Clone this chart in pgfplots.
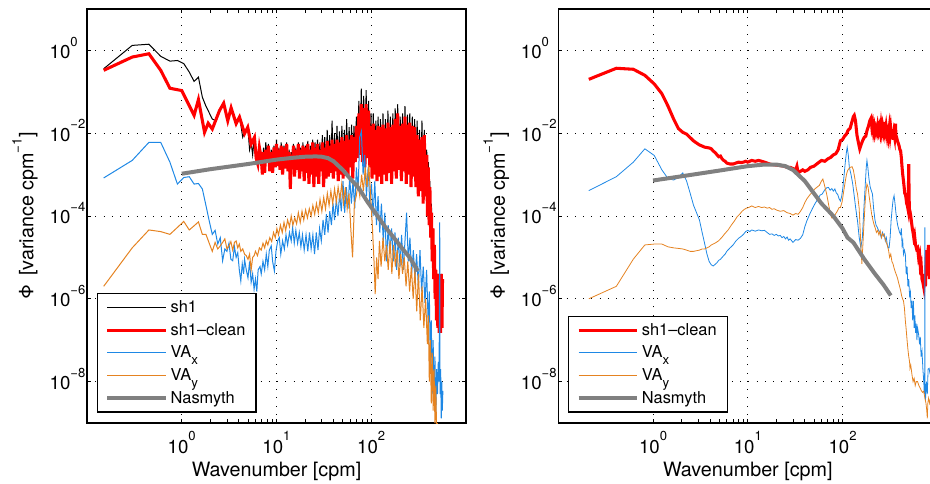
\documentclass[border=0pt]{standalone}
\usepackage{fontspec}
\setmainfont{TeX Gyre Heros}
\usepackage{pgfplots}
\pgfplotsset{compat=1.18}
\definecolor{mblue}{RGB}{30,136,229}
\definecolor{morange}{RGB}{229,131,33}
\definecolor{mgray}{RGB}{128,128,128}
\newcommand{\sps}[1]{\raisebox{0.6em}{\fontsize{10}{10}\selectfont #1}}
\newcommand{\tsp}[1]{\raisebox{0.66em}{\fontsize{9.8}{9.8}\selectfont #1}}
\newcommand{\tl}[1]{{\fontsize{14}{15}\selectfont 10\tsp{#1}}}
\newcommand{\sbs}[1]{\raisebox{-0.8ex}{\fontsize{10}{10}\selectfont #1}}
\pgfplotsset{legend image code/.code={\draw[#1] (2pt,0pt) -- (46pt,0pt);}}
\begin{document}
\begin{tikzpicture}
% LEFT
\begin{axis}[at={(65.25pt,45.75pt)}, anchor=south west,
    scale only axis, width=284.25pt, height=310.5pt,
    xmode=log, ymode=log, xmin=0.1, xmax=1000, ymin=1e-9, ymax=10,
    xtick={1,10,100}, xticklabels={\tl{0},\tl{1},\tl{2}},
    ytick={1e-8,1e-6,1e-4,1e-2,1},
    yticklabels={\tl{−8},\tl{−6},\tl{−4},\tl{−2},\tl{0}},
    minor tick num=0,
    tick align=inside, major tick length=3pt,
    every tick/.style={black, line width=0.6pt},
    axis line style={line width=0.9pt},
    xmajorgrids, ymajorgrids,
    major grid style={black, line width=0.6pt, dash pattern=on 0.6pt off 5.6pt},
    xticklabel style={anchor=base, yshift=-22.5pt},
    yticklabel style={anchor=base west, xshift=-31.5pt, yshift=-6pt},
    xlabel={Wavenumber [cpm]},
    xlabel style={font=\fontsize{14.8}{16}\selectfont, at={(axis description cs:0.5,-0.1304)}, anchor=base},
    ylabel={Φ\hspace{0.45em}[variance cpm\sps{−1}]},
    ylabel style={font=\fontsize{14.8}{16}\selectfont, at={(axis description cs:-0.1636,0.5)}, anchor=center},
    legend cell align=left,
    legend style={draw=black, line width=0.9pt, font=\fontsize{12.3}{14}\selectfont,
      at={(0.0256,0.025)}, anchor=south west, inner xsep=6pt, inner ysep=3pt, row sep=2.6pt}]
\addplot[black, line width=0.75pt] coordinates {
(0.15,0.36)(0.3,1.32)(0.45,1.41)(0.6,0.72)(0.75,0.55)(0.9,0.57)(1.05,0.48)(1.2,0.3)(1.35,0.178)(1.5,0.226)(1.65,0.074)(1.8,0.045)(2.1,0.022)(2.3,0.02)(2.5,0.036)(2.77,0.055)(3.06,0.022)(3.32,0.043)(3.75,0.019)(4.07,0.026)(4.4,0.008)(4.6,0.0105)(4.97,0.0145)(5.2,0.004)(5.4,0.006)(5.6,0.003)(5.85,0.0085)(6.1,0.0025)
(6.35,2.2e-3)(6.6,5e-3)(6.9,3e-3)(7.1,1.4e-3)(7.3,4.5e-3)(7.5,1.5e-3)(7.7,6e-3)(8.0,2.5e-3)(8.2,5.5e-3)(8.5,1.6e-3)(8.8,4e-3)(9.1,1.5e-3)(9.4,5e-3)(9.7,2e-3)(10.0,7e-3)(10.3,2e-3)(10.6,4.5e-3)(10.9,1.8e-3)(11.2,6e-3)(11.6,1.5e-3)(12.0,5e-3)(12.4,2e-3)(12.8,6e-3)(13.2,1.6e-3)(13.6,4e-3)(14.0,1e-3)(14.3,3.5e-3)(14.7,2e-3)(15.1,5.5e-3)(15.5,1.3e-3)(16,4.5e-3)(16.5,1.8e-3)(17,6e-3)(17.5,1.2e-3)(18,4.5e-3)(18.5,1.6e-3)(19,6e-3)(19.6,1e-3)(20.2,5e-3)(20.8,1.5e-3)(21.4,6.5e-3)(22,9e-4)(22.7,5e-3)(23.4,1.4e-3)(24.1,7e-3)(24.8,8e-4)(25.5,6e-3)(26.3,1.3e-3)(27.1,7e-3)(27.9,9e-4)(28.7,6e-3)(29.6,1.6e-3)(30.5,9e-3)(31.4,8e-4)(32.3,8e-3)(33.3,1.2e-3)(34.3,1.2e-2)(35.3,1.2e-3)(36.4,9e-3)(37.5,1.5e-3)(38.6,2e-2)(39.8,1.2e-3)(41,1e-2)(42.2,1.6e-3)(43.5,1.5e-2)(44.8,1e-3)(46.1,1.1e-2)(47.5,1.4e-3)(49,1.5e-2)(50.5,1.2e-3)(52,1.2e-2)(53.5,1.8e-3)(55,2.2e-2)(56.7,1.3e-3)(58.4,1.4e-2)(60.1,2e-3)(62,1.6e-2)(63.8,1.2e-3)(65.7,1.5e-2)(67.7,3e-3)(69.7,2.5e-2)(71.8,3.5e-3)(74,6e-2)(76.2,4e-3)(78.5,0.12)(80.8,3e-3)(83.2,0.08)(85.7,2e-3)(88.3,0.11)(91,3.5e-3)(93.7,0.06)(96.5,2e-3)(99.4,3e-2)(102,1.2e-3)(105,3e-2)(108,1.5e-3)(112,2e-2)(115,1e-3)(118,2.5e-2)(122,1.3e-3)(125,2.2e-2)(129,9e-4)(133,3e-2)(137,1.4e-3)(141,2.2e-2)(145,1e-3)(150,3.5e-2)(154,1.6e-3)(159,2.5e-2)(164,9e-4)(169,3e-2)(174,1.7e-3)(179,4e-2)(184,1.2e-3)(190,5e-2)(196,1.8e-3)(202,2.5e-2)(208,1e-3)(214,3e-2)(220,1.7e-3)(227,4.5e-2)(234,9e-4)(241,2.8e-2)(248,1.4e-3)(255,3e-2)(263,8e-4)(271,2.5e-2)(279,1.3e-3)(287,2.2e-2)(296,8e-4)(305,2e-2)(314,5e-4)(323,1.2e-2)(333,6e-4)(343,2e-2)(353,3e-4)(363,1.2e-2)(374,4e-4)(385,4e-3)(392,1.5e-4)(400,2e-3)(408,9e-5)(416,7e-4)(424,4e-5)(432,2e-4)(436,1.5e-5)(440,1.5e-5)(448,5e-5)(456,4e-6)(464,2e-5)(472,1.5e-6)(480,5e-6)(488,4e-7)(496,4e-6)(504,3e-7)(512,4e-6)(520,2e-7)(530,3e-6)(540,2e-7)(550,4e-6)(558,3e-7)(565,3e-6)
};
\addlegendentry{sh1}
\addplot[red, line width=2.3pt] coordinates {
(0.15,0.33)(0.3,0.69)(0.45,0.83)(0.6,0.33)(0.75,0.122)(1.0,0.107)(1.35,0.027)(1.5,0.065)(1.74,0.0105)(1.9,0.0174)(2.1,0.0126)(2.5,0.035)(2.77,0.053)(3.06,0.02)(3.32,0.041)(3.75,0.017)(4.07,0.0245)(4.6,0.0098)(4.97,0.0139)(5.4,0.0055)(5.85,0.0079)(6.1,0.0025)
(6.35,1.8e-3)(6.6,4.5e-3)(6.9,2.5e-3)(7.1,1.0e-3)(7.3,3.5e-3)(7.5,1.1e-3)(7.7,4e-3)(8.0,2.0e-3)(8.2,5e-3)(8.5,1.2e-3)(8.8,3.5e-3)(9.1,1.1e-3)(9.4,4.5e-3)(9.7,1.5e-3)(10.0,5.5e-3)(10.3,1.6e-3)(10.6,4e-3)(10.9,1.3e-3)(11.2,5e-3)(11.6,1.0e-3)(12.0,4.5e-3)(12.4,1.4e-3)(12.8,5.5e-3)(13.2,1.2e-3)(13.6,3.5e-3)(14.0,4.5e-4)(14.3,3e-3)(14.7,1.5e-3)(15.1,5e-3)(15.5,9e-4)(16,4e-3)(16.5,1.3e-3)(17,5.5e-3)(17.5,8e-4)(18,4e-3)(18.5,1.2e-3)(19,5e-3)(19.6,7e-4)(20.2,4.5e-3)(20.8,1.1e-3)(21.4,5.5e-3)(22,6e-4)(22.7,4e-3)(23.4,1e-3)(24.1,6e-3)(24.8,5e-4)(25.5,4.5e-3)(26.3,9e-4)(27.1,5.5e-3)(27.9,6e-4)(28.7,4e-3)(29.6,1.2e-3)(30.5,6e-3)(31.4,5e-4)(32.3,4.5e-3)(33.3,8e-4)(34.3,6.5e-3)(35.3,9e-4)(36.4,5e-3)(37.5,1.1e-3)(38.6,7e-3)(39.8,8e-4)(41,5.5e-3)(42.2,1.2e-3)(43.5,7e-3)(44.8,7e-4)(46.1,6e-3)(47.5,1e-3)(49,8e-3)(50.5,8e-4)(52,6.5e-3)(53.5,1.3e-3)(55,9e-3)(56.7,9e-4)(58.4,7e-3)(60.1,1.5e-3)(62,9e-3)(63.8,8e-4)(65.7,8e-3)(67.7,2e-3)(69.7,1.5e-2)(71.8,2.5e-3)(74,3e-2)(76.2,3e-3)(78.5,5e-2)(80.8,2e-3)(83.2,4e-2)(85.7,1.5e-3)(88.3,5e-2)(91,2.5e-3)(93.7,3.5e-2)(96.5,1.5e-3)(99.4,1.5e-2)(102,8e-4)(105,1.7e-2)(108,1e-3)(112,1.2e-2)(115,7e-4)(118,1.5e-2)(122,9e-4)(125,1.4e-2)(129,6e-4)(133,1.6e-2)(137,1e-3)(141,1.3e-2)(145,7e-4)(150,1.8e-2)(154,1.1e-3)(159,1.4e-2)(164,6e-4)(169,1.6e-2)(174,1.2e-3)(179,2.2e-2)(184,8e-4)(190,3e-2)(196,1.3e-3)(202,1.5e-2)(208,7e-4)(214,1.7e-2)(220,1.2e-3)(227,2.5e-2)(234,6e-4)(241,1.6e-2)(248,1e-3)(255,1.8e-2)(263,5e-4)(271,1.5e-2)(279,9e-4)(287,1.4e-2)(296,5e-4)(305,9e-3)(314,3e-4)(323,7e-3)(333,4e-4)(343,8e-3)(353,2e-4)(363,9e-3)(374,3e-4)(385,3e-3)(392,1e-4)(400,1.5e-3)(408,6e-5)(416,5e-4)(424,3e-5)(432,1.2e-4)(440,8e-6)(448,5e-5)(456,3e-6)(464,2e-5)(472,1e-6)(480,5e-6)(488,3e-7)(496,4e-6)(504,2e-7)(512,4e-6)(520,1.5e-7)(530,3e-6)(540,1.5e-7)(550,4e-6)(558,2e-7)(565,3e-6)
};
\addlegendentry{sh1--clean}
\addplot[mblue, line width=0.75pt] coordinates {
(0.15,8.3e-4)(0.3,2.2e-3)(0.45,6e-3)(0.6,6e-3)(0.75,2e-3)(0.9,5.9e-4)(1.05,8.5e-4)(1.2,8.9e-4)(1.35,5.9e-4)(1.5,6.1e-4)(1.65,4.5e-4)(1.8,1.8e-4)(1.95,7.6e-5)(2.1,3.6e-5)(2.25,4.5e-5)(2.4,2.1e-5)(2.55,3e-5)(2.7,8.3e-6)(2.85,1.6e-5)(3.0,1.4e-5)(3.15,2.2e-5)(3.3,9e-6)(3.45,8.3e-6)(3.6,1.8e-5)(3.75,1e-5)(3.9,1.3e-5)(4.05,5e-6)(4.2,2.7e-6)(4.35,7e-6)(4.5,4e-6)(4.6,9e-6)(4.8,5e-6)(5.0,3.2e-6)(5.2,8e-6)(5.4,2.5e-6)(5.6,4e-6)(5.8,1.7e-6)(6.0,3e-6)(6.2,1.5e-6)(6.4,5e-6)(6.7,6e-6)(6.9,4e-6)(7.2,8e-6)(7.5,5e-6)(7.8,1.2e-5)(8.1,6e-6)(8.4,1.5e-5)(8.8,1.9e-5)(9.1,8e-6)(9.5,4.7e-6)(9.9,1.5e-5)(10.3,2.5e-5)(10.7,3e-5)(11.1,1.2e-5)(11.6,2.5e-5)(12.1,1.6e-5)(12.6,3.5e-5)(13.1,2e-5)(13.7,4e-5)(14.3,2.5e-5)(14.8,5.3e-5)(15.4,2.2e-5)(16,4.5e-5)(16.7,2.2e-5)(17.4,4e-5)(18.1,1.8e-5)(18.8,3.5e-5)(19.6,1.5e-5)(20.5,3.5e-5)(21.4,1.4e-5)(22.3,4e-5)(23.2,1.6e-5)(24.2,3.5e-5)(25.2,1.2e-5)(26.3,4e-5)(27.4,1.5e-5)(28.5,5e-5)(29.7,2.5e-5)(31,8e-5)(32.3,3.5e-5)(33.6,1.1e-4)(35,4e-5)(36.5,1.3e-4)(38,6e-5)(39.5,2e-4)(41,8e-5)(42.8,2.5e-4)(44.5,1e-4)(46.4,3.5e-4)(48.3,1.3e-4)(50.3,7e-4)(52.4,1.2e-4)(54.6,5e-4)(56.9,1.5e-4)(59.2,9e-4)(61.7,2e-4)(64.2,7e-4)(66.9,1.5e-4)(69.7,1.5e-3)(72.6,4e-4)(75.6,8e-3)(78.7,1.1e-2)(82,1e-3)(85.4,3e-3)(89,3e-4)(92.7,1.5e-3)(96.5,2e-4)(100.5,6e-4)(104.7,1e-4)(109,7e-4)(113.5,6e-5)(118,3e-4)(123,4e-5)(128,2e-4)(134,2.5e-5)(139,1.2e-4)(145,8e-6)(151,6e-5)(157,1.2e-5)(164,5e-5)(171,8e-6)(178,4e-5)(185,5e-6)(193,3e-5)(201,6e-6)(209,3.5e-5)(218,5e-6)(227,2.5e-5)(236,1.2e-4)(246,8e-6)(256,3e-5)(267,4e-6)(278,1.5e-5)(289,3e-6)(301,1.2e-5)(314,2e-6)(327,1.5e-5)(340,1.5e-6)(354,6e-6)(369,8e-7)(384,5e-6)(400,2e-7)(410,1.5e-6)(420,3e-8)(430,3e-7)(440,5e-9)(450,1e-7)(460,3e-9)(470,4e-8)(480,1.5e-9)(490,2e-8)(500,5e-9)(510,3e-8)(520,1e-8)(528,7e-5)(532,5e-9)(540,2e-8)(548,1.3e-9)(555,1e-8)(562,2e-9)(570,6e-9)
};
\addlegendentry{VA\sbs{x}}
\addplot[morange, line width=0.75pt] coordinates {
(0.15,2e-6)(0.3,1.7e-5)(0.45,4.6e-5)(0.6,4.2e-5)(0.75,3.6e-5)(0.9,5.3e-5)(1.05,7.4e-5)(1.2,4.6e-5)(1.35,5.8e-5)(1.5,7.2e-5)(1.65,3.6e-5)(1.8,3.6e-5)(1.95,2.2e-5)(2.1,1.4e-5)(2.25,2.3e-5)(2.4,1.6e-5)(2.55,1.9e-5)(2.7,2.3e-5)(2.85,2.8e-5)(3.0,1.6e-5)(3.15,1.9e-5)(3.3,2.4e-5)(3.45,1.5e-5)(3.6,2.3e-5)(3.75,2.5e-5)(3.9,1.7e-5)(4.05,2.1e-5)(4.2,1.4e-5)(4.4,1.6e-5)(4.6,1.2e-5)(4.8,1.1e-5)(5.0,9e-6)(5.2,1.2e-5)(5.4,5e-6)(5.6,1e-5)(5.8,1.1e-5)(6.0,1.4e-5)(6.3,1.1e-5)(6.6,1.7e-5)(6.9,1.5e-5)(7.2,2.2e-5)(7.5,1.7e-5)(7.8,2.5e-5)(8.1,2e-5)(8.5,3e-5)(8.9,2.4e-5)(9.3,4e-5)(9.7,3e-5)(10.1,5e-5)(10.5,3.5e-5)(11,6e-5)(11.5,4e-5)(12,7e-5)(12.5,4.5e-5)(13.1,8e-5)(13.7,5.5e-5)(14.3,1e-4)(14.9,6e-5)(15.6,9e-5)(16.3,6.5e-5)(17,1.2e-4)(17.8,7e-5)(18.6,1.3e-4)(19.4,8e-5)(20.3,1.4e-4)(21.2,9e-5)(22.2,1.5e-4)(23.2,1e-4)(24.2,1.8e-4)(25.3,1.1e-4)(26.4,2e-4)(27.6,1.2e-4)(28.8,2.5e-4)(30.1,1.3e-4)(31.5,2.8e-4)(32.9,1.5e-4)(34.4,3.5e-4)(35.9,1.8e-4)(37.5,4e-4)(39.2,2e-4)(41,4.5e-4)(42.8,2.2e-4)(44.7,5e-4)(46.7,2.5e-4)(48.8,6e-4)(51,2e-4)(53.3,5e-4)(55.7,1.5e-4)(58.2,3.5e-4)(60.8,5e-5)(63.5,1e-5)(66.4,2e-4)(69.4,3e-4)(72.5,6e-4)(75.7,3e-4)(79.1,1e-3)(82.7,4e-4)(86.4,1.5e-3)(90.3,5e-4)(94.3,1.7e-3)(98.5,3e-4)(103,5e-5)(107,8e-6)(110,1.3e-6)(114,1e-5)(118,3e-6)(122,2.5e-5)(127,6e-6)(133,3e-5)(139,8e-6)(145,2e-5)(151,5e-6)(158,2.5e-5)(165,4e-6)(172,2e-5)(180,6e-6)(188,1.5e-5)(196,3e-6)(205,1.2e-5)(214,4e-6)(223,1e-5)(233,2e-6)(243,8e-6)(254,1.5e-6)(265,6e-6)(277,1e-6)(289,5e-6)(302,5e-7)(315,4e-6)(329,3e-7)(344,2e-6)(359,2e-7)(375,1e-6)(391,8e-8)(400,4e-7)(410,1e-8)(420,1e-7)(430,3e-9)(440,5e-8)(450,2e-9)(460,2e-8)(470,1e-9)(480,8e-9)(490,5e-10)(500,1e-9)
};
\addlegendentry{VA\sbs{y}}
\addplot[mgray, line width=3pt] coordinates {
(1,1.05e-3)(2,1.35e-3)(5,1.8e-3)(10,2.3e-3)(15,2.55e-3)(20,2.7e-3)(26,2.75e-3)(30,2.7e-3)(35,2.5e-3)(40,2.1e-3)(50,1.3e-3)(60,8e-4)(75,4.5e-4)(90,2.3e-4)(113,1.1e-4)(140,5.5e-5)(169,3.2e-5)(210,1.7e-5)(254,1e-5)(310,4.7e-6)
};
\addlegendentry{Nasmyth}
\end{axis}
% RIGHT
\begin{axis}[at={(418.7pt,45.75pt)}, anchor=south west,
    scale only axis, width=284.25pt, height=310.5pt,
    xmode=log, ymode=log, xmin=0.1, xmax=1000, ymin=1e-9, ymax=10,
    xtick={1,10,100}, xticklabels={\tl{0},\tl{1},\tl{2}},
    ytick={1e-8,1e-6,1e-4,1e-2,1},
    yticklabels={\tl{−8},\tl{−6},\tl{−4},\tl{−2},\tl{0}},
    minor tick num=0,
    tick align=inside, major tick length=3pt,
    every tick/.style={black, line width=0.6pt},
    axis line style={line width=0.9pt},
    xmajorgrids, ymajorgrids,
    major grid style={black, line width=0.6pt, dash pattern=on 0.6pt off 5.6pt},
    xticklabel style={anchor=base, yshift=-22.5pt},
    yticklabel style={anchor=base west, xshift=-31.5pt, yshift=-6pt},
    xlabel={Wavenumber [cpm]},
    xlabel style={font=\fontsize{14.8}{16}\selectfont, at={(axis description cs:0.5,-0.1304)}, anchor=base},
    ylabel={Φ\hspace{0.45em}[variance cpm\sps{−1}]},
    ylabel style={font=\fontsize{14.8}{16}\selectfont, at={(axis description cs:-0.1636,0.5)}, anchor=center},
    legend cell align=left,
    legend style={draw=black, line width=0.9pt, font=\fontsize{12.3}{14}\selectfont,
      at={(0.0256,0.025)}, anchor=south west, inner xsep=6pt, inner ysep=3pt, row sep=2.6pt}]
\addplot[red, line width=2.3pt] coordinates {
(0.21,0.2)(0.41,0.37)(0.62,0.35)(0.82,0.25)(1.03,0.155)(1.24,0.09)(1.44,0.045)(1.65,0.022)(1.85,0.013)(2.06,0.0105)(2.26,0.0095)(2.47,0.0078)(2.68,0.0065)(2.88,0.0058)(3.09,0.0052)(3.3,0.0049)(3.5,0.0046)(3.71,0.0045)(3.91,0.0044)(4.12,0.0042)(4.32,0.0037)(4.53,0.0034)(4.74,0.003)(4.94,0.0027)(5.15,0.0028)(5.36,0.0024)(5.56,0.0022)(5.77,0.0021)(6,0.0019)(6.5,0.0018)(7,0.0018)(7.5,0.0019)(8,0.002)(8.5,0.00195)(9,0.002)(9.5,0.0021)(10,0.002)(11,0.0022)(12,0.0021)(13,0.0022)(14,0.0021)(15,0.002)(16,0.0019)(17,0.0018)(18,0.00175)(20,0.0017)(22,0.00165)(24,0.0016)(26,0.0015)(28,0.0015)(30,0.0014)(32,0.0013)(33,0.0016)(34,0.0011)(36,0.0012)(38,0.0013)(40,0.0012)(43,0.0013)(46,0.0015)(50,0.0016)(55,0.0019)(60,0.0022)(65,0.0021)(70,0.0024)(75,0.0026)(80,0.003)(85,0.0032)(90,0.004)(95,0.0066)(100,0.007)(105,0.0085)(110,0.0095)(115,0.012)(120,0.013)(125,0.018)(130,0.025)(133,0.027)(137,0.02)(142,0.009)(147,0.006)(152,0.0042)(158,0.0055)(164,0.0068)(170,0.008)(176,0.0085)(182,0.012)(188,0.015)(194,0.02)(200,0.023)(204,0.014)(208,0.017)(212,0.011)(216,0.014)(220,0.01)(225,0.013)(230,0.0105)(235,0.015)(240,0.011)(245,0.014)(250,0.0105)(255,0.016)(260,0.011)(265,0.015)(270,0.0115)(276,0.0185)(282,0.011)(288,0.015)(294,0.01)(300,0.016)(306,0.0095)(312,0.014)(318,0.009)(323,0.0125)(329,0.008)(335,0.012)(342,0.007)(348,0.01)(354,0.008)(358,0.014)(362,0.017)(366,0.009)(372,0.008)(380,0.0065)(385,0.006)(395,0.005)(403,0.004)(410,0.0038)(418,0.0025)(425,0.0015)(432,0.001)(440,0.0007)(447,0.0005)(454,0.00035)(460,0.00034)(467,0.00028)(475,0.0002)(483,0.00018)(490,0.00015)(495,0.0003)(500,0.0018)(503,0.0005)(507,0.00015)(515,0.00013)(525,0.0001)(535,7e-5)(545,5e-5)(555,4e-5)(565,3e-5)(575,3.5e-5)(590,2e-5)(605,1.6e-5)(620,1.7e-5)(635,1e-5)(650,1.2e-5)(662,6e-6)(675,7e-6)(690,3e-6)(705,2.5e-6)(720,1.9e-6)(735,4e-6)(750,2e-6)(765,1e-5)(775,1.5e-5)(785,4e-6)(795,6e-6)(805,2e-5)(815,1e-5)(825,3e-6)(835,1.5e-5)(850,5e-6)
};
\addlegendentry{sh1--clean}
\addplot[mblue, line width=0.6pt] coordinates {
(0.21,4.1e-4)(0.41,8.9e-4)(0.62,2e-3)(0.82,4.2e-3)(1.03,2.9e-3)(1.24,1.3e-3)(1.44,8e-4)(1.65,7.4e-4)(1.85,8.5e-4)(2.06,1.1e-3)(2.26,7e-4)(2.47,3.5e-4)(2.68,1.8e-4)(2.88,1.2e-4)(3.09,8e-5)(3.3,4e-5)(3.5,2.2e-5)(3.71,1.2e-5)(3.91,8e-6)(4.12,6.6e-6)(4.32,6.2e-6)(4.53,6.8e-6)(4.74,7.5e-6)(4.94,8.5e-6)(5.15,9e-6)(5.36,1e-5)(5.56,1.1e-5)(5.77,1.2e-5)(6,1.4e-5)(6.5,1.7e-5)(7,2e-5)(7.5,2.5e-5)(8,2.9e-5)(8.5,3.2e-5)(9,3.6e-5)(9.5,4.2e-5)(10,4.5e-5)(10.5,4.2e-5)(11,4.6e-5)(12,4.3e-5)(13,4.6e-5)(14,4.4e-5)(15,4.5e-5)(16,4e-5)(17,3.6e-5)(18,3.7e-5)(19,3.4e-5)(20,3.6e-5)(21,3.3e-5)(22,3.4e-5)(23,3e-5)(24,3.2e-5)(25,2.8e-5)(26,3.1e-5)(27,2.6e-5)(28,2.8e-5)(30,2.3e-5)(32,2.7e-5)(34,2.6e-5)(36,2.9e-5)(38,3.5e-5)(40,5.5e-5)(42,7.6e-5)(45,1.1e-4)(48,1.5e-4)(51,1.95e-4)(55,2.6e-4)(58,3.2e-4)(61,3.4e-4)(65,4.3e-4)(68,4.8e-4)(71,4.9e-4)(74,4.2e-4)(77,4.6e-4)(80,4e-4)(83,4.5e-4)(86,3.6e-4)(89,3.3e-4)(92,2.6e-4)(95,2.3e-4)(98,3e-4)(101,5e-4)(104,1e-3)(107,2e-3)(110,3.5e-3)(112,4.6e-3)(115,3e-3)(118,1.5e-3)(123,1e-3)(128,6e-4)(133,3e-4)(138,1.5e-4)(144,7.6e-5)(150,3e-5)(156,1.7e-5)(162,3e-5)(168,1.5e-4)(174,6e-4)(178,1.5e-3)(181,2.2e-3)(185,1.5e-3)(190,8e-4)(196,5e-4)(202,4e-4)(207,3.4e-4)(213,1.5e-4)(220,8e-5)(226,6e-5)(233,5.3e-5)(240,4.5e-5)(248,4e-5)(256,3e-5)(264,4e-5)(270,3.3e-5)(276,3.6e-5)(283,2.5e-5)(290,3e-5)(297,2e-5)(304,1.7e-5)(310,1.7e-5)(318,3e-5)(326,8e-5)(334,1.5e-4)(342,2.5e-4)(350,3.1e-4)(358,2e-4)(366,1.2e-4)(374,8e-5)(382,6e-5)(390,5e-5)(400,4e-5)(410,3.6e-5)(418,5e-5)(425,2e-5)(432,2.5e-5)(440,1.2e-5)(450,1.5e-5)(460,1.2e-5)(470,3.9e-6)(480,6e-6)(490,2e-6)(500,3e-6)(510,1.2e-6)(520,1.5e-6)(530,6e-7)(540,9e-7)(550,3e-7)(560,8.9e-7)(570,2e-7)(580,4e-7)(590,1.5e-7)(600,2.5e-7)(610,1e-7)(620,2e-7)(635,1.4e-7)(650,8e-8)(662,1.2e-7)(675,4e-8)(690,5.5e-8)(705,2e-8)(720,1e-8)(730,5e-9)(737,2e-8)(740,5.3e-5)(743,1e-8)(750,3.4e-9)(760,6e-9)(770,1e-8)(785,5e-9)(800,2e-8)(820,2.1e-8)(840,1.5e-8)
};
\addlegendentry{VA\sbs{x}}
\addplot[morange, line width=0.6pt] coordinates {
(0.21,1e-6)(0.41,2e-6)(0.62,9.1e-6)(0.82,2e-5)(1.03,2.1e-5)(1.24,2.1e-5)(1.44,1.8e-5)(1.65,1.7e-5)(1.85,1.65e-5)(2.06,1.6e-5)(2.26,1.5e-5)(2.47,1.4e-5)(2.68,1.4e-5)(2.88,1.45e-5)(3.09,1.5e-5)(3.3,1.6e-5)(3.5,1.6e-5)(3.71,1.7e-5)(3.91,1.8e-5)(4.12,2e-5)(4.5,2.2e-5)(4.9,2.5e-5)(5.3,3e-5)(5.7,3.7e-5)(6.2,4.6e-5)(6.7,6e-5)(7.2,7.5e-5)(7.7,9.5e-5)(8.2,1.1e-4)(8.7,1.3e-4)(9.2,1.45e-4)(9.7,1.55e-4)(10.2,1.6e-4)(11,1.75e-4)(12,1.6e-4)(13,1.7e-4)(14,1.6e-4)(15,1.65e-4)(16,1.55e-4)(17,1.6e-4)(18,1.45e-4)(19,1.5e-4)(20,1.4e-4)(22,1.3e-4)(24,1.35e-4)(26,1.2e-4)(28,1.15e-4)(30,1.05e-4)(32,1.15e-4)(34,1.1e-4)(36,1.3e-4)(38,1.6e-4)(40,2.1e-4)(42,2.6e-4)(45,3.2e-4)(48,3.8e-4)(51,4.5e-4)(54,5e-4)(57,5.5e-4)(60,7e-4)(62,7.8e-4)(64,6e-4)(66,4.5e-4)(68,3.4e-4)(71,2e-4)(74,1.2e-4)(77,9e-5)(80,9e-5)(84,1.1e-4)(88,1.3e-4)(92,1.6e-4)(95,1.6e-4)(99,2.2e-4)(103,4e-4)(107,7e-4)(110,1e-3)(113,1.25e-3)(117,1.4e-3)(121,1.5e-3)(126,1.55e-3)(130,1.3e-3)(135,8e-4)(140,4.5e-4)(144,3.4e-4)(150,1.5e-4)(156,2e-5)(160,7e-6)(164,2e-5)(168,6e-5)(173,2e-4)(177,4e-4)(181,5.9e-4)(186,5e-4)(191,3e-4)(197,1.8e-4)(203,1.1e-4)(209,8e-5)(216,6e-5)(222,5e-5)(228,4e-5)(235,4.5e-5)(242,3.5e-5)(250,4.4e-5)(258,3e-5)(266,3.8e-5)(276,3.3e-5)(286,2.5e-5)(296,2e-5)(306,1.5e-5)(314,1e-5)(323,1.2e-5)(332,8e-6)(341,7e-6)(350,5.5e-6)(360,4.5e-6)(370,3.8e-6)(380,3.2e-6)(390,2.5e-6)(400,2e-6)(410,1.6e-6)(420,1.2e-6)(430,1e-6)(440,8.9e-7)(450,6e-7)(460,3e-7)(470,1.8e-7)(480,1e-7)(490,6e-8)(500,4e-8)(510,3e-8)(515,2.1e-8)(525,2.5e-8)(540,1.5e-8)(555,1e-8)(570,1.2e-8)(585,8e-9)(600,1e-8)(620,1e-8)(640,8e-9)(660,7e-9)(680,6e-9)(700,5.5e-9)(720,5.9e-9)(740,4e-9)(760,3e-9)(775,2e-9)(785,1.3e-9)(795,3e-9)(810,4e-9)(830,3e-9)(850,4e-9)
};
\addlegendentry{VA\sbs{y}}
\addplot[mgray, line width=3pt] coordinates {
(1,7.2e-4)(2,9.1e-4)(5,1.25e-3)(10,1.6e-3)(15,1.75e-3)(20,1.75e-3)(25,1.6e-3)(30,1.3e-3)(40,7e-4)(50,3.5e-4)(60,2e-4)(80,1e-4)(100,5e-5)(113,3e-5)(130,2.3e-5)(170,9e-6)(220,4e-6)(270,2.2e-6)(323,1.2e-6)
};
\addlegendentry{Nasmyth}
\end{axis}
\pgfresetboundingbox
\path[use as bounding box] (0pt,0pt) rectangle (697.5pt,363pt);
\end{tikzpicture}
\end{document}
